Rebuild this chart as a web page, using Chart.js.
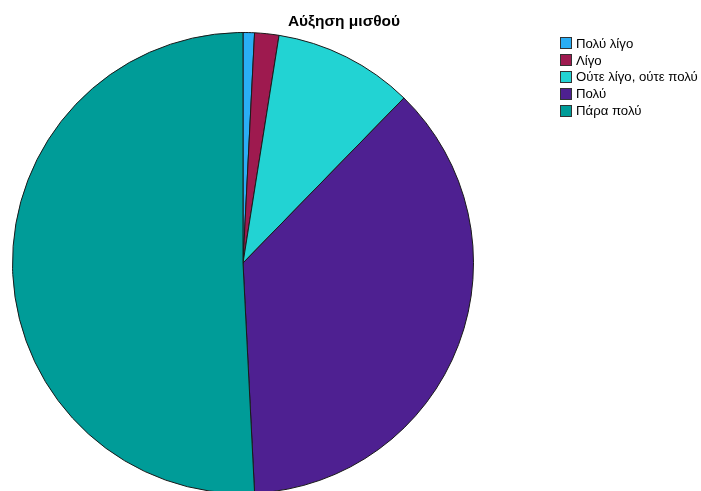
<!DOCTYPE html>
<html>
<head>
<meta charset="utf-8">
<script src="https://cdn.jsdelivr.net/npm/chart.js@4/dist/chart.umd.min.js"></script>
<style>
  html, body { margin: 0; padding: 0; background: #fff; overflow: hidden; width: 701px; height: 491px; }
  #wrap { position: relative; width: 701px; height: 491px; overflow: hidden; }
  canvas { position: absolute; left: 0; top: 0; }
  #title { position: absolute; left: 0; width: 688px; top: 12px; text-align: center; line-height: 18px;
           font: bold 15.5px "Liberation Sans", Arial, sans-serif; color: #000; }
  #legend { position: absolute; left: 560px; top: 35px; font: 13.2px "Liberation Sans", Arial, sans-serif; color: #000; }
  .row { height: 16.8px; display: flex; align-items: center; white-space: nowrap; }
  .sw { width: 10px; height: 10px; border: 1px solid #333; margin-right: 4px; box-sizing: content-box; }
</style>
</head>
<body>
<div id="wrap">
  <canvas id="c" width="701" height="494"></canvas>
  <div id="title"></div>
  <div id="legend"></div>
</div>
<script>
const titleText = "Αύξηση μισθού";
const categories = ["Πολύ λίγο", "Λίγο", "Ούτε λίγο, ούτε πολύ", "Πολύ", "Πάρα πολύ"];
const values = [0.8, 1.7, 9.8, 36.9, 50.8];
const colors = ["#2AAEF5", "#9E1A4F", "#22D3D3", "#4E2091", "#009C98"];

document.getElementById('title').textContent = titleText;
const leg = document.getElementById('legend');
categories.forEach((c, i) => {
  const r = document.createElement('div'); r.className = 'row';
  const s = document.createElement('div'); s.className = 'sw'; s.style.background = colors[i];
  const t = document.createElement('span'); t.textContent = c;
  r.appendChild(s); r.appendChild(t); leg.appendChild(r);
});

new Chart(document.getElementById('c'), {
  type: 'pie',
  data: {
    labels: categories,
    datasets: [{
      data: values,
      backgroundColor: colors,
      borderColor: '#1a1a1a',
      borderWidth: 1
    }]
  },
  options: {
    responsive: false,
    animation: false,
    layout: { padding: { left: 12, right: 227, top: 32, bottom: 0 } },
    plugins: { legend: { display: false }, title: { display: false }, tooltip: { enabled: false } }
  }
});
</script>
</body>
</html>
